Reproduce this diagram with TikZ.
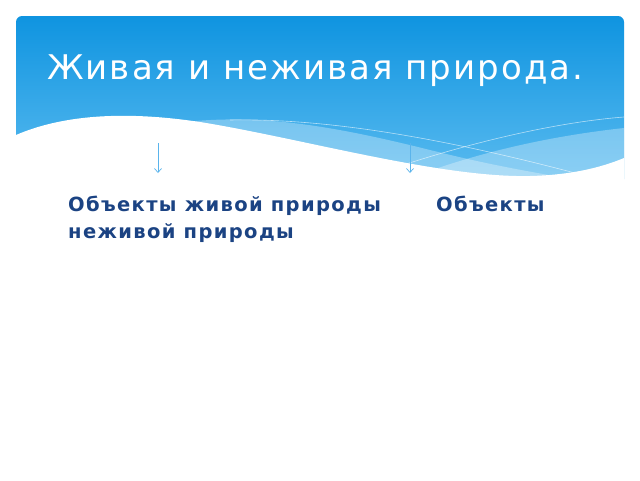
\documentclass[tikz,border=0pt]{standalone}
\usepackage{fontspec}
\setmainfont{DejaVu Sans}
\newfontfamily\titlefont[LetterSpace=6]{DejaVu Sans}
\newfontfamily\bodyfont[LetterSpace=7]{DejaVu Sans}
\usetikzlibrary{arrows.meta}
\definecolor{headtop}{HTML}{0F94E0}
\definecolor{headbot}{HTML}{5CBCF0}
\definecolor{textblue}{HTML}{1B4383}
\definecolor{arrowblue}{HTML}{5AB4EC}
\begin{document}
\begin{tikzpicture}[x=1pt,y=-1pt]
                \useasboundingbox (0,0) rectangle (640,480);
                \fill[white] (0,0) rectangle (640,480);
                % header
                \shade[top color=headtop, bottom color=headbot, rounded corners=6pt] (16,16) rectangle (624,185);
                \fill[white, opacity=0.3] (185,122) .. controls (260,114) and (330,125) .. (430,150) .. controls (490,165) and (530,172) .. (590,182) -- (185,182) -- cycle;
                \fill[white, opacity=0.3] (400,182) .. controls (480,150) and (560,135) .. (624,128) -- (624,182) -- cycle;
                \draw[white, opacity=0.6, line width=0.6pt] (230,120) .. controls (330,118) and (450,140) .. (575,173);
                \draw[white, opacity=0.6, line width=0.6pt] (400,166) .. controls (480,140) and (560,122) .. (624,117);
                \fill[white] (16,135) .. controls (60,116) and (120,110) .. (200,122) .. controls (300,138) and (440,178) .. (530,176) .. controls (570,175) and (600,168) .. (624,158) -- (624,190) -- (16,190) -- cycle;
                \node[white, font=\titlefont\fontsize{34}{40}\selectfont, anchor=base west, inner sep=0pt] (title) at (47,79) {Живая и неживая природа.};
                % arrows
                \coordinate (left top) at (158,143);
                \coordinate (left end) at (158,173);
                \coordinate (right top) at (410,143);
                \coordinate (right end) at (410,173);
                \draw[arrowblue, line width=0.7pt, -{Straight Barb[length=4pt,width=7pt]}] (left top) -- (left end);
                \draw[arrowblue, line width=0.7pt, -{Straight Barb[length=4pt,width=7pt]}] (right top) -- (right end);
                % text
                \node[textblue, font=\bodyfont\bfseries\fontsize{19.5}{23}\selectfont, anchor=base west, inner sep=0pt] (live) at (68,211) {Объекты живой природы};
                \node[textblue, font=\bodyfont\bfseries\fontsize{19.5}{23}\selectfont, anchor=base west, inner sep=0pt] (obj) at (436,211) {Объекты};
                \node[textblue, font=\bodyfont\bfseries\fontsize{19.5}{23}\selectfont, anchor=base west, inner sep=0pt] (nonlive) at (68,238) {неживой природы};
            \end{tikzpicture}
\end{document}
